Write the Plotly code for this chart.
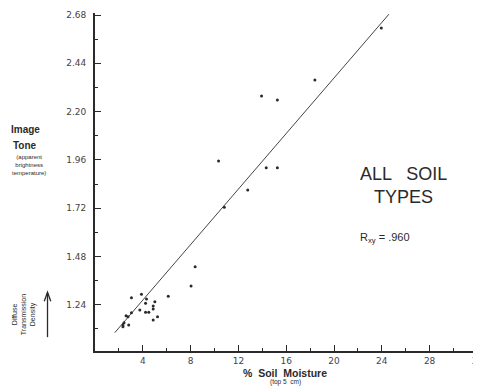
import plotly.graph_objects as go

# Data
soil_moisture = [23.96, 18.4, 13.94, 15.26, 14.33, 15.26, 12.78, 10.34, 10.82,
                 8.38, 8.04, 6.13, 3.05, 3.89, 4.31, 4.23, 5.01, 4.87, 4.87,
                 4.87, 5.23, 4.23, 4.5, 3.75, 3.05, 2.76, 2.43, 2.34, 2.82, 2.34, 2.6]
image_tone = [2.615, 2.357, 2.277, 2.257, 1.921, 1.921, 1.81, 1.954, 1.724,
              1.429, 1.333, 1.282, 1.275, 1.292, 1.268, 1.247, 1.255, 1.234, 1.219,
              1.164, 1.18, 1.202, 1.202, 1.214, 1.20, 1.18, 1.15, 1.139, 1.139, 1.13, 1.185]

fit_x = [1.65, 24.6]
fit_slope = 0.069
fit_intercept = 0.987
fit_y = [fit_intercept + fit_slope * v for v in fit_x]

y_ticks = [1.24, 1.48, 1.72, 1.96, 2.20, 2.44, 2.68]
y_labels = ["1.24", "1.48", "1.72", "1.96", "2.20", "2.44", "2.68"]
x_ticks = [4, 8, 12, 16, 20, 24, 28, 32]
x_labels = [str(v) for v in x_ticks]

ink = "#2a2a2a"
font = "Liberation Sans, Arial, sans-serif"
tickfont = "DejaVu Sans, sans-serif"

fig = go.Figure()
fig.add_trace(go.Scatter(x=fit_x, y=fit_y, mode="lines",
                         line=dict(color="#444", width=1), hoverinfo="skip"))
fig.add_trace(go.Scatter(x=soil_moisture, y=image_tone, mode="markers",
                         marker=dict(color=ink, size=3)))

fig.update_layout(
    width=473, height=378,
    margin=dict(l=87, r=3, t=5, b=35, autoexpand=False),
    paper_bgcolor="white", plot_bgcolor="white",
    showlegend=False,
    font=dict(family=font, color=ink),
    xaxis=dict(range=[0, 32.05], tickmode="array", tickvals=x_ticks, ticktext=x_labels,
               ticks="inside", ticklen=6, tickwidth=1, tickcolor=ink,
               showline=True, linecolor=ink, linewidth=1.8, showgrid=False, zeroline=False,
               tickfont=dict(size=9, color="#444", family=tickfont),
               ticklabeloverflow="allow",
               minor=dict(tick0=0, dtick=2, ticks="inside", ticklen=3, tickcolor=ink, showgrid=False)),
    yaxis=dict(range=[1.01, 2.69], tickmode="array", tickvals=y_ticks, ticktext=y_labels,
               ticks="inside", ticklen=6, tickwidth=1, tickcolor=ink,
               showline=True, linecolor=ink, linewidth=1.8, showgrid=False, zeroline=False,
               tickfont=dict(size=9, color="#444", family=tickfont), ticklabelstandoff=5,
               minor=dict(tick0=1.00, dtick=0.12, ticks="inside", ticklen=3, tickcolor=ink, showgrid=False)),
)

ann = [
    dict(text="<b>Image</b>", x=-0.182, y=0.654, size=10),
    dict(text="<b>Tone</b>", x=-0.182, y=0.609, size=10),
    dict(text="(apparent<br>brightness<br>temperature)", x=-0.172, y=0.55, size=6),
    dict(text="ALL   SOIL", x=0.806, y=0.525, size=18),
    dict(text="TYPES", x=0.806, y=0.457, size=18),
    dict(text="R<sub>xy</sub> = .960", x=0.756, y=0.333, size=11),
    dict(text="<b>%  Soil  Moisture</b>", x=0.497, y=-0.065, size=10.5),
    dict(text="(top 5  cm)", x=0.497, y=-0.093, size=6.5),
]
for a in ann:
    fig.add_annotation(text=a["text"], x=a["x"], y=a["y"], xref="paper", yref="paper",
                       xanchor="center", yanchor="middle",
                       showarrow=False, font=dict(size=a["size"], color=ink, family=font),
                       align="center")

fig.add_annotation(text="Diffuse<br>Transmission<br>Density", x=-0.187, y=0.107,
                   xref="paper", yref="paper", xanchor="center", yanchor="middle",
                   showarrow=False, textangle=-90,
                   font=dict(size=7, color=ink, family=font))

# upward arrow beside the secondary label
fig.add_shape(type="line", xref="paper", yref="paper", x0=-0.124, x1=-0.124, y0=0.041, y1=0.172,
              line=dict(color=ink, width=1.3))
fig.add_shape(type="path", xref="paper", yref="paper",
              path="M -0.1325,0.147 L -0.124,0.174 L -0.1155,0.147",
              line=dict(color=ink, width=1.3))

fig.write_html("out.html")
